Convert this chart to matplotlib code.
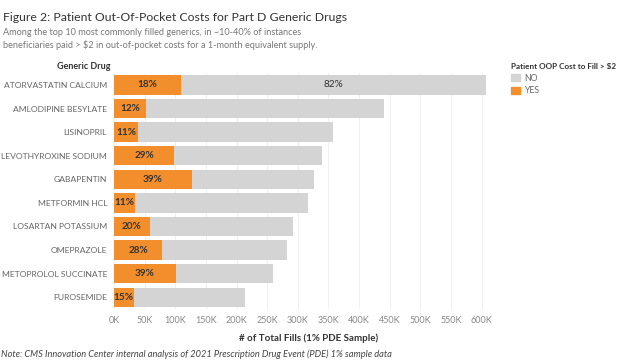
import matplotlib.pyplot as plt
from matplotlib.patches import Patch
from matplotlib.ticker import FuncFormatter

# данные (тысячи заполнений)
drugs = ['ATORVASTATIN CALCIUM', 'AMLODIPINE BESYLATE', 'LISINOPRIL', 'LEVOTHYROXINE SODIUM',
         'GABAPENTIN', 'METFORMIN HCL', 'LOSARTAN POTASSIUM', 'OMEPRAZOLE',
         'METOPROLOL SUCCINATE', 'FUROSEMIDE']
yes_fills = [110, 53, 39, 98, 127, 35, 58, 79, 101, 32]
no_fills = [497, 387, 318, 241, 200, 281, 235, 203, 159, 182]
yes_pct = ['18%', '12%', '11%', '29%', '39%', '11%', '20%', '28%', '39%', '15%']
no_pct = ['82%', '', '', '', '', '', '', '', '', '']
xticks = [0, 50, 100, 150, 200, 250, 300, 350, 400, 450, 500, 550, 600]

ORANGE = '#F28E2B'
GREY = '#D4D4D4'
FONT = 'Lato'

plt.rcParams['font.family'] = [FONT, 'DejaVu Sans']

fig = plt.figure(figsize=(6.24, 3.64), dpi=100)
ax = fig.add_axes([0.1827, 0.151, 0.806 - 0.1827, 0.799 - 0.151])

ypos = list(range(len(drugs)))
ax.barh(ypos, yes_fills, height=0.82, color=ORANGE)
ax.barh(ypos, no_fills, left=yes_fills, height=0.82, color=GREY)

for i in ypos:
    ax.text(yes_fills[i] / 2, i, yes_pct[i], ha='center', va='center',
            fontsize=7.2, color='#333333', fontweight='bold')
    if no_pct[i]:
        ax.text(yes_fills[i] + no_fills[i] / 2, i, no_pct[i], ha='center', va='center',
                fontsize=7.2, color='#333333')

ax.set_ylim(len(drugs) - 0.5, -0.5)
ax.set_xlim(0, 635)
ax.set_yticks(ypos)
ax.set_yticklabels(drugs, fontsize=6.1, color='#666666')
ax.set_xticks(xticks)
ax.xaxis.set_major_formatter(FuncFormatter(lambda v, p: f'{int(v)}K'))
ax.tick_params(axis='x', labelsize=6.5, colors='#888888', length=0, pad=5)
ax.tick_params(axis='y', length=0, pad=5)
ax.grid(axis='x', color='#EEEEEE', linewidth=0.6)
ax.set_axisbelow(True)
for s in ax.spines.values():
    s.set_visible(False)
ax.set_xlabel('# of Total Fills (1% PDE Sample)', fontsize=7, color='#333333',
              fontweight='bold', labelpad=6)

# заголовки
fig.text(0.005, 0.953, 'Figure 2: Patient Out-Of-Pocket Costs for Part D Generic Drugs',
         fontsize=8.8, color='#333333', va='center')
fig.text(0.005, 0.912, 'Among the top 10 most commonly filled generics, in ~10-40% of instances',
         fontsize=6.6, color='#777777', va='center')
fig.text(0.005, 0.876, 'beneficiaries paid > $2 in out-of-pocket costs for a 1-month equivalent supply.',
         fontsize=6.6, color='#777777', va='center')
fig.text(0.177, 0.816, 'Generic Drug', fontsize=6.5, color='#333333', fontweight='bold',
         ha='right', va='center')
fig.text(0.002, 0.027,
         'Note: CMS Innovation Center internal analysis of 2021 Prescription Drug Event (PDE) 1% sample data',
         fontsize=6.7, color='#444444', style='italic', va='center')

# легенда
handles = [Patch(color=GREY, label='NO'), Patch(color=ORANGE, label='YES')]
leg = fig.legend(handles=handles, loc='upper left', bbox_to_anchor=(0.819, 0.828),
                 title='Patient OOP Cost to Fill > $2', frameon=False, fontsize=6.3,
                 title_fontsize=5.9, handlelength=1.0, handleheight=1.0,
                 handletextpad=0.5, labelspacing=0.45, borderaxespad=0, borderpad=0)
leg.get_title().set_fontweight('bold')
leg.get_title().set_color('#333333')
leg._legend_box.align = 'left'
for t in leg.get_texts():
    t.set_color('#666666')

fig.savefig('out.png', dpi=100)
